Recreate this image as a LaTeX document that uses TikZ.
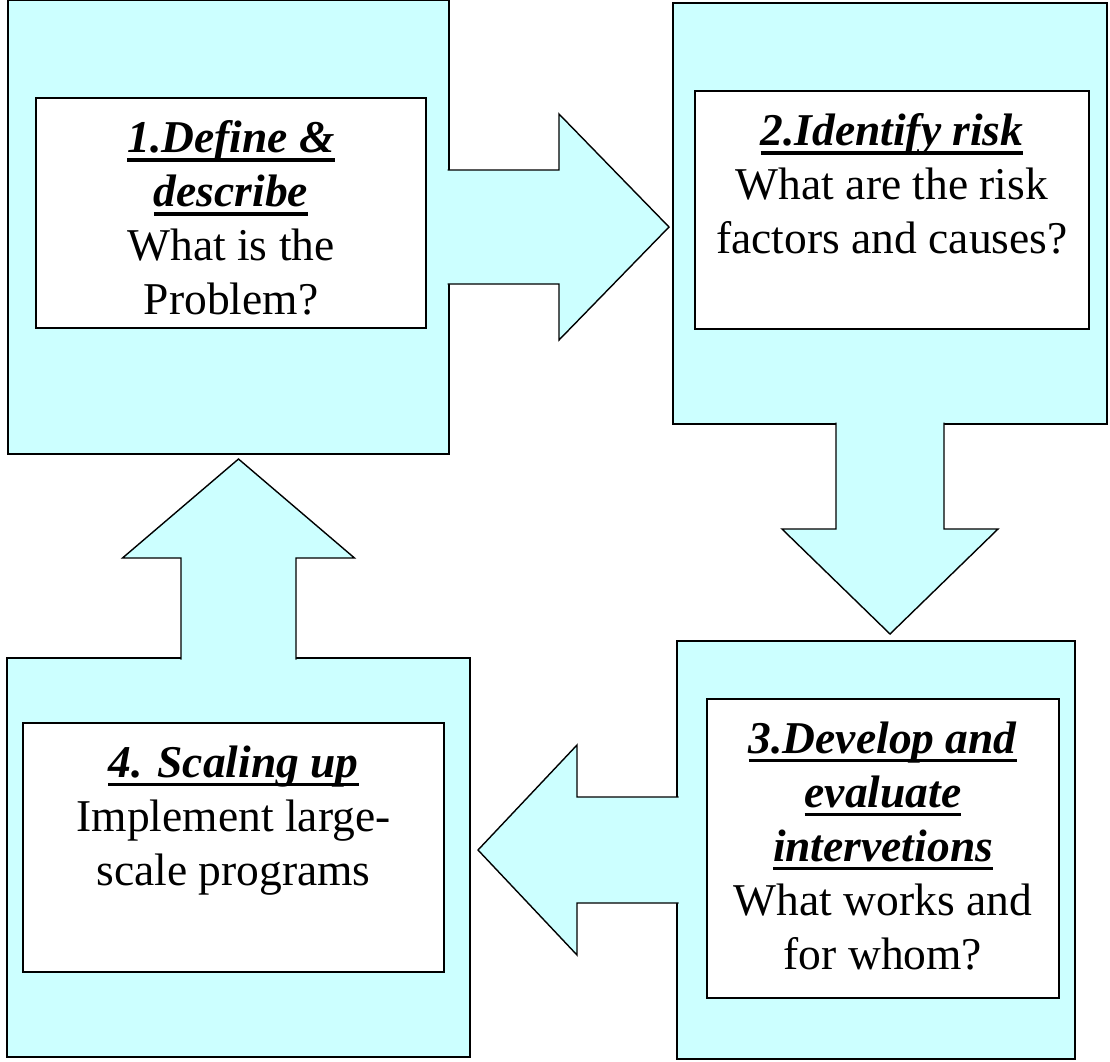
\documentclass[tikz,border=0pt]{standalone}
\usepackage{fontspec}
\setmainfont{Liberation Serif}
\usetikzlibrary{positioning,calc}

\definecolor{palecyan}{HTML}{CCFFFF}
\newsavebox{\titlebox}
\newcommand{\stagetitle}[1]{\sbox{\titlebox}{\textbf{\textit{#1}}}\rlap{\rule[-9pt]{\wd\titlebox}{3.5pt}}\usebox{\titlebox}}

\begin{document}
\begin{tikzpicture}[
	x = 1pt, y = -1pt, % one unit per pixel, y pointing down
	line width = 1.4pt,
	outer/.style={rectangle, draw=black, fill=palecyan, inner sep=0pt, outer sep=0pt},
	inner/.style={rectangle, draw=black, fill=white, inner sep=0pt, outer sep=0pt},
	txt/.style={align=center, inner sep=0pt, font=\fontsize{45.5}{54}\selectfont},
	blk/.style={fill=palecyan, draw=black, line join=miter},
	]
	\useasboundingbox (0,0) rectangle (1110,1061);

	% Outer boxes
	\node[outer, minimum width=441, minimum height=454] (B1) at (228.5,227) {};
	\node[outer, minimum width=434, minimum height=421] (B2) at (890,213.5) {};
	\node[outer, minimum width=398, minimum height=418] (B3) at (876,850) {};
	\node[outer, minimum width=463, minimum height=399] (B4) at (238.5,857.5) {};

	% Inner boxes
	\node[inner, minimum width=390, minimum height=230] (I1) at (231,213) {};
	\node[inner, minimum width=394, minimum height=238] (I2) at (892,210) {};
	\node[inner, minimum width=352, minimum height=299] (I3) at (883,848.5) {};
	\node[inner, minimum width=421, minimum height=249] (I4) at (233.5,847.5) {};

	% Texts
	\node[txt, below=22pt of I1.north] (T1) {\stagetitle{1.Define \&}\\\stagetitle{describe}\\What is the\\Problem?};
	\node[txt, below=22pt of I2.north] (T2) {\stagetitle{2.Identify risk}\\What are the risk\\factors and causes?};
	\node[txt, below=22pt of I3.north] (T3) {\stagetitle{3.Develop and}\\\stagetitle{evaluate}\\\stagetitle{intervetions}\\What works and\\for whom?};
	\node[txt, below=22pt of I4.north] (T4) {\stagetitle{4. Scaling up}\\Implement large-\\scale programs};

	% Block arrows between boxes
	\filldraw[blk] ($(B1.east)+(-1.5,-57)$) -- ($(B1.east)+(110,-57)$) -- ($(B1.east)+(110,-113)$)
		-- ($(B1.east)+(220,0)$) -- ($(B1.east)+(110,113)$) -- ($(B1.east)+(110,57)$) -- ($(B1.east)+(-1.5,57)$);
	\filldraw[blk] ($(B2.south)+(-54,-1.5)$) -- ($(B2.south)+(-54,105)$) -- ($(B2.south)+(-108,105)$)
		-- ($(B2.south)+(0,210)$) -- ($(B2.south)+(108,105)$) -- ($(B2.south)+(54,105)$) -- ($(B2.south)+(54,-1.5)$);
	\filldraw[blk] ($(B3.west)+(1.5,-53)$) -- ($(B3.west)+(-100,-53)$) -- ($(B3.west)+(-100,-105)$)
		-- ($(B3.west)+(-199,0)$) -- ($(B3.west)+(-100,105)$) -- ($(B3.west)+(-100,53)$) -- ($(B3.west)+(1.5,53)$);
	\filldraw[blk] ($(B4.north)+(-57.5,1.5)$) -- ($(B4.north)+(-57.5,-100)$) -- ($(B4.north)+(-116,-100)$)
		-- ($(B4.north)+(0,-199)$) -- ($(B4.north)+(116,-100)$) -- ($(B4.north)+(57.5,-100)$) -- ($(B4.north)+(57.5,1.5)$);

\end{tikzpicture}
\end{document}
